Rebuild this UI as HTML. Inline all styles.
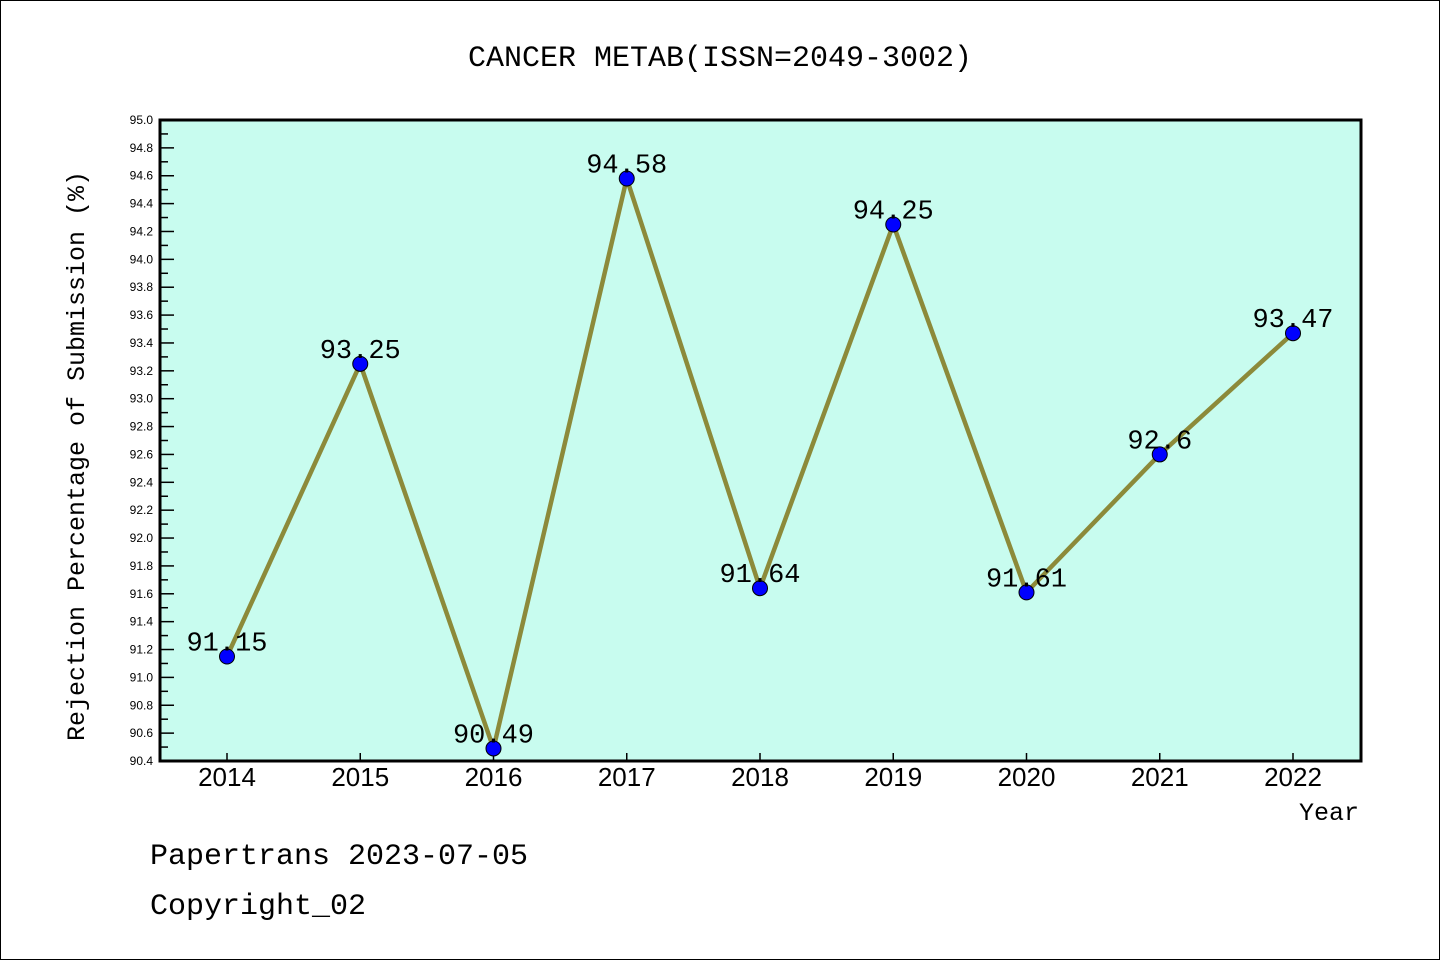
<!DOCTYPE html>
<html><head><meta charset="utf-8"><style>
body{margin:0;background:#fff}
svg{display:block}
text{font-family:"Liberation Mono","DejaVu Sans Mono",monospace}
.s{font-family:"Liberation Sans","DejaVu Sans",sans-serif}
</style></head><body>
<svg id="c" width="1440" height="960">
<rect x="0.5" y="0.5" width="1439" height="959" fill="#fff" stroke="#000"/>
<text x="720" y="66" font-size="30" text-anchor="middle">CANCER METAB(ISSN=2049-3002)</text>
<rect x="160" y="120" width="1201" height="641" fill="#c8fcef"/>
<g id="yt"></g><g id="xt"></g><g id="ser"></g>
<rect x="160" y="120" width="1201" height="641" fill="none" stroke="#000" stroke-width="3"/>
<text transform="translate(84,456) rotate(-90)" font-size="25" text-anchor="middle">Rejection Percentage of Submission (%)</text>
<text x="1359" y="820" font-size="25" text-anchor="end">Year</text>
<text x="150" y="864" font-size="30">Papertrans 2023-07-05</text>
<text x="150" y="914" font-size="30">Copyright_02</text>
</svg>
<script>
const years=["2014","2015","2016","2017","2018","2019","2020","2021","2022"];
const values=[91.15,93.25,90.49,94.58,91.64,94.25,91.61,92.6,93.47];
const labels=["91.15","93.25","90.49","94.58","91.64","94.25","91.61","92.6","93.47"];
const yMin=90.4,yMax=95.0;
const NS="http://www.w3.org/2000/svg";
const X0=160,X1=1361,Y0=761,Y1=120;
const xs=i=>227+i*(1293-227)/(years.length-1);
const ys=v=>Y0-(v-yMin)/(yMax-yMin)*(Y0-Y1);
function mk(t,a,p){const e=document.createElementNS(NS,t);for(const k in a)e.setAttribute(k,a[k]);p.appendChild(e);return e;}
const yt=document.getElementById('yt'),xt=document.getElementById('xt'),ser=document.getElementById('ser');
for(let k=0;k<=46;k++){const v=yMin+k*0.1,y=ys(v);const major=k%2==0;
 const l=mk('line',{x1:X0,x2:X0+(major?14:8),y1:y,y2:y,stroke:'#000','stroke-width':1.5},yt);
 
 
 if(major){const t=mk('text',{x:153,y:y+4,'font-size':12,'text-anchor':'end',class:'s'},yt);t.textContent=v.toFixed(1);
 
 }}
years.forEach((yr,i)=>{const x=xs(i);
 const l=mk('line',{x1:x,x2:x,y1:Y0,y2:Y0-8,stroke:'#000','stroke-width':1.5},xt);
 
 
 const t=mk('text',{x:x,y:786,'font-size':26,'text-anchor':'middle',class:'s'},xt);t.textContent=yr;
 
 });
const pl=mk('polyline',{points:values.map((v,i)=>xs(i)+','+ys(v)).join(' '),fill:'none',stroke:'#8c8a3a','stroke-width':4.5},ser);


values.forEach((v,i)=>{
 const c=mk('circle',{cx:xs(i),cy:ys(v),r:7.5,fill:'#0000ff',stroke:'#000','stroke-width':1},ser);
 
 
 const t=mk('text',{x:xs(i),y:ys(v)-6,'font-size':27,'text-anchor':'middle'},ser);t.textContent=labels[i];
 
 });
</script>
</body></html>
